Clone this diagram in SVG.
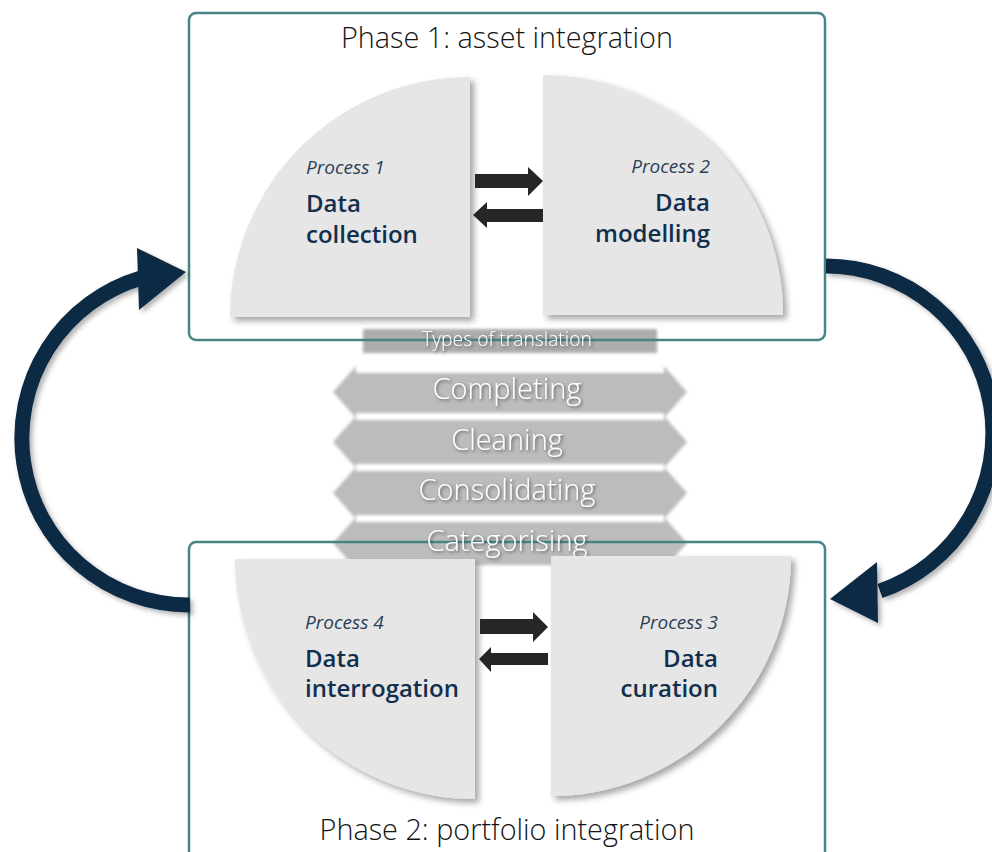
<svg xmlns="http://www.w3.org/2000/svg" width="992" height="852" viewBox="0 0 992 852">
  <defs>
    <style>
      .phase { fill: none; stroke: #468585; stroke-width: 2.5; }
      .phase-title { font-family: "Open Sans", "Liberation Sans", sans-serif; font-weight: 300; font-size: 28.8px; fill: #141414; text-anchor: middle; }
      .quarter { fill: #e6e6e6; filter: url(#softShadow); }
      .proc { font-family: "Open Sans", "Liberation Sans", sans-serif; font-style: italic; font-size: 19px; fill: #2a3f58; }
      .name { font-family: "Open Sans", "Liberation Sans", sans-serif; font-weight: 600; font-size: 24px; fill: #12304e; }
      .swap { fill: #262626; }
      .band { fill: #bcbcbc; filter: url(#haze); }
      .band-label { font-family: "Open Sans", "Liberation Sans", sans-serif; font-weight: 300; font-size: 29px; fill: #ffffff; text-anchor: middle; filter: url(#textShadow); }
      .band-title { font-family: "Open Sans", "Liberation Sans", sans-serif; font-weight: 300; font-size: 19.3px; fill: #ffffff; text-anchor: middle; filter: url(#textShadow); }
      .loop { fill: none; stroke: #0f2a45; stroke-width: 15; filter: url(#loopShadow); }
      .loop-head { fill: #0f2a45; filter: url(#loopShadow); }
    </style>
    <filter id="softShadow" x="-10%" y="-10%" width="125%" height="125%">
      <feDropShadow dx="4" dy="4" stdDeviation="3" flood-color="#000" flood-opacity="0.35"/>
    </filter>
    <filter id="loopShadow" x="-20%" y="-20%" width="140%" height="140%">
      <feDropShadow dx="3" dy="3" stdDeviation="2.5" flood-color="#000" flood-opacity="0.3"/>
    </filter>
    <filter id="haze" x="-5%" y="-20%" width="110%" height="140%">
      <feGaussianBlur stdDeviation="1.6"/>
    </filter>
    <filter id="textShadow" x="-10%" y="-30%" width="120%" height="160%">
      <feDropShadow dx="1.5" dy="1.5" stdDeviation="1.5" flood-color="#333" flood-opacity="0.7"/>
    </filter>
  </defs>

  <rect width="992" height="852" fill="#ffffff"/>

  <!-- translation types banner between the two phases -->
  <g id="translation-types">
    <rect class="band" x="363" y="329" width="294" height="24" style="fill:#adadad"/>
    <path class="band" d="M333 392 L356 366 L356 373 L664 373 L664 366 L687 392 L664 418 L664 413 L356 413 L356 418 Z"/>
    <path class="band" d="M333 442 L356 416 L356 420 L664 420 L664 416 L687 442 L664 468 L664 464 L356 464 L356 468 Z"/>
    <path class="band" d="M333 493 L356 467 L356 471 L664 471 L664 467 L687 493 L664 519 L664 515 L356 515 L356 519 Z"/>
    <path class="band" d="M333 543 L356 517 L356 522 L664 522 L664 517 L687 543 L664 569 L664 565 L356 565 L356 569 Z"/>
  </g>

  <!-- phase containers -->
  <g id="phase-1">
    <rect class="phase" x="189" y="13" width="636" height="327" rx="7"/>
    <text class="phase-title" x="507" y="48">Phase 1: asset integration</text>
  </g>
  <g id="phase-2">
    <rect class="phase" x="189" y="542" width="636" height="330" rx="7"/>
    <text class="phase-title" x="507" y="840">Phase 2: portfolio integration</text>
  </g>

  <!-- banner labels -->
  <g id="translation-labels">
    <text class="band-title" x="507" y="346">Types of translation</text>
    <text class="band-label" x="507" y="399">Completing</text>
    <text class="band-label" x="507" y="450">Cleaning</text>
    <text class="band-label" x="507" y="500">Consolidating</text>
    <text class="band-label" x="507" y="551">Categorising</text>
  </g>

  <!-- process quadrants -->
  <g id="process-1">
    <path class="quarter" d="M470 317 L230 317 A240 240 0 0 1 470 77 Z"/>
    <text class="proc" x="306" y="174">Process 1</text>
    <text class="name" x="306" y="212">Data</text>
    <text class="name" x="306" y="243">collection</text>
  </g>
  <g id="process-2">
    <path class="quarter" d="M543 315 L543 75 A240 240 0 0 1 783 315 Z"/>
    <text class="proc" x="710" y="173" text-anchor="end">Process 2</text>
    <text class="name" x="710" y="211" text-anchor="end">Data</text>
    <text class="name" x="710" y="242" text-anchor="end">modelling</text>
  </g>
  <g id="process-4">
    <path class="quarter" d="M475 559 L235 559 A240 240 0 0 0 475 799 Z"/>
    <text class="proc" x="305" y="629">Process 4</text>
    <text class="name" x="305" y="667">Data</text>
    <text class="name" x="305" y="697">interrogation</text>
  </g>
  <g id="process-3">
    <path class="quarter" d="M551 556 L791 556 A240 240 0 0 1 551 796 Z"/>
    <text class="proc" x="718" y="629" text-anchor="end">Process 3</text>
    <text class="name" x="718" y="667" text-anchor="end">Data</text>
    <text class="name" x="718" y="697" text-anchor="end">curation</text>
  </g>

  <!-- connectors -->
  <g id="connectors">
    <!-- exchange arrows, phase 1 -->
    <path class="swap" d="M475 174 L528 174 L528 167 L543 181 L528 196 L528 188 L475 188 Z"/>
    <path class="swap" d="M543 209 L487 209 L487 202 L473 215 L487 228 L487 222 L543 222 Z"/>
    <!-- exchange arrows, phase 2 -->
    <path class="swap" d="M480 619 L533 619 L533 612 L548 627 L533 642 L533 634 L480 634 Z"/>
    <path class="swap" d="M548 653 L491 653 L491 647 L479 659 L491 672 L491 665 L548 665 Z"/>
    <!-- phase 1 to phase 2 loop -->
    <path class="loop" d="M826 266 A167 167 0 0 1 880 591"/>
    <polygon class="loop-head" points="877,562 830,599 878,623"/>
    <!-- phase 2 back to phase 1 loop -->
    <path class="loop" d="M190 605 A167 167 0 0 1 141 278"/>
    <polygon class="loop-head" points="137,248 186,272 139,310"/>
  </g>
</svg>
